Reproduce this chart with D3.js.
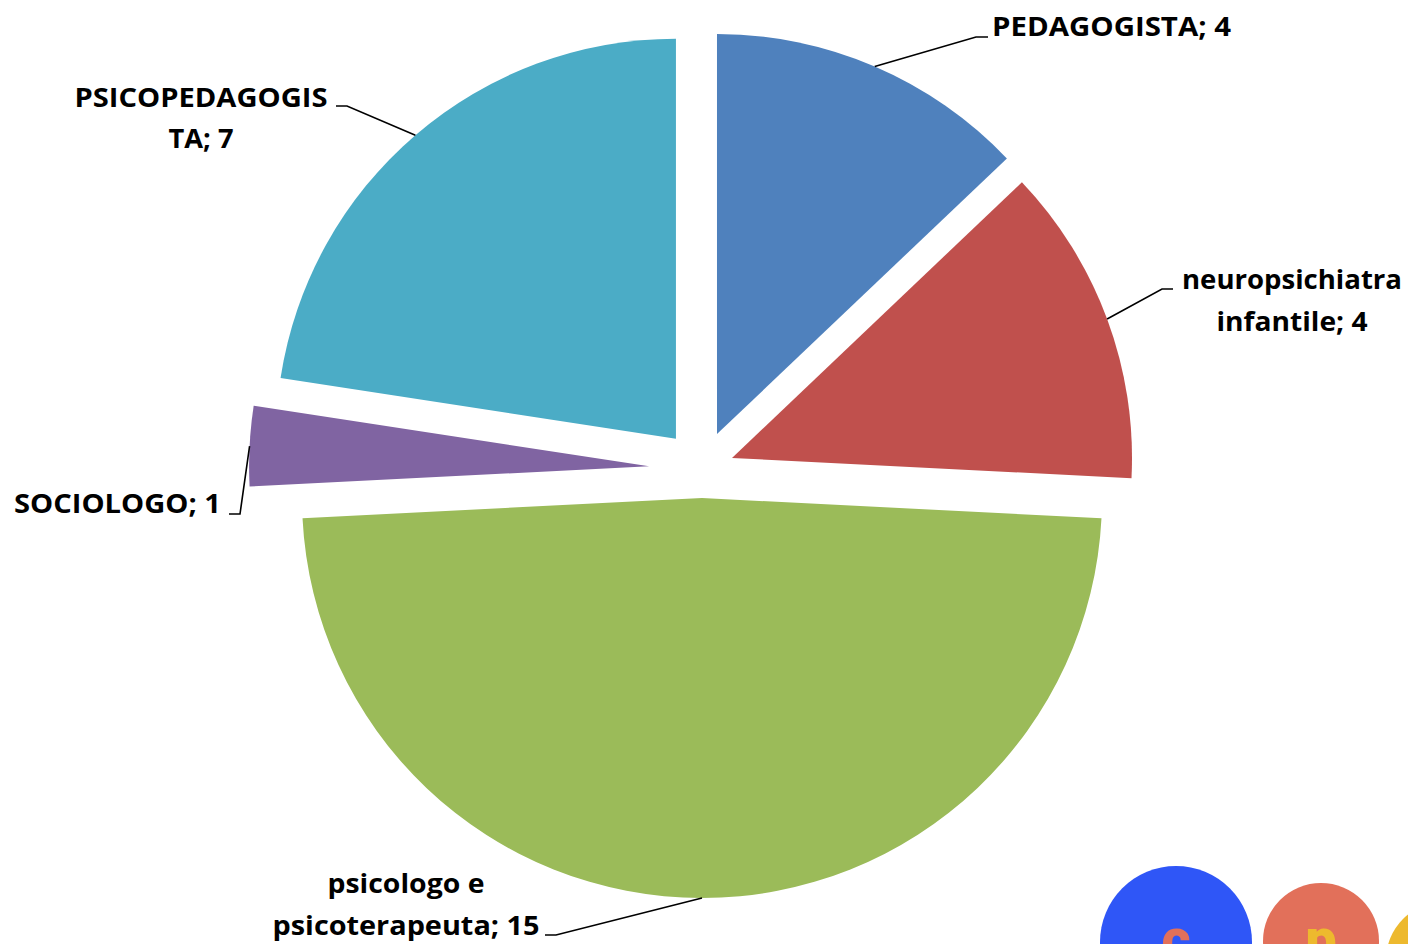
<!DOCTYPE html>
<html>
<head>
<meta charset="utf-8">
<script src="https://cdn.jsdelivr.net/npm/d3@7"></script>
<style>
  html, body { margin: 0; padding: 0; background: #fff; }
  svg { display: block; }
</style>
</head>
<body>
<svg id="chart" width="1408" height="944"></svg>
<script>
// ---- data ----
const categories = ["PEDAGOGISTA", "neuropsichiatra infantile", "psicologo e psicoterapeuta", "SOCIOLOGO", "PSICOPEDAGOGISTA"];
const values = [4, 4, 15, 1, 7];
const labelLines = [
  ["PEDAGOGISTA; 4"],
  ["neuropsichiatra", "infantile; 4"],
  ["psicologo e", "psicoterapeuta; 15"],
  ["SOCIOLOGO; 1"],
  ["PSICOPEDAGOGIS", "TA; 7"]
];
const colors = ["#4F81BD", "#C0504D", "#9BBB59", "#8064A2", "#4BACC6"];

// ---- layout (presentation only) ----
const W = 1408, H = 944;
const center = { x: 702, y: 469 };
const radius = 400;
const explode = { "PEDAGOGISTA": 38, "neuropsichiatra infantile": 32, "psicologo e psicoterapeuta": 29, "SOCIOLOGO": 53, "PSICOPEDAGOGISTA": 40 };
const labelLayout = {
  "PEDAGOGISTA": { x: 992, anchor: "start", ys: [36], widths: [239], elbow: [976, 37], end: [988, 37] },
  "neuropsichiatra infantile": { x: 1292, anchor: "middle", ys: [289, 331], widths: [220, 151], elbow: [1162, 289], end: [1173, 289] },
  "psicologo e psicoterapeuta": { x: 406, anchor: "middle", ys: [893, 935], widths: [157, 267], elbow: [556, 935], end: [545, 935] },
  "SOCIOLOGO": { x: 14, anchor: "start", ys: [513], widths: [207], elbow: [240, 514], end: [229, 514] },
  "PSICOPEDAGOGISTA": { x: 201, anchor: "middle", ys: [107, 148], widths: [253, 65], elbow: [347, 106], end: [336, 106] }
};

const svg = d3.select("#chart");
svg.append("rect").attr("width", W).attr("height", H).attr("fill", "#fff");

const pie = d3.pie().sort(null).value(d => d.value).startAngle(0).endAngle(2 * Math.PI);
const arcs = pie(categories.map((c, i) => ({ cat: c, value: values[i], color: colors[i], lines: labelLines[i] })));

const rScale = d3.scaleLinear().domain([0, 1]).range([0, radius]);
const arcGen = d3.arc().innerRadius(0).outerRadius(rScale(1));

const g = svg.append("g").attr("transform", `translate(${center.x},${center.y})`);

arcs.forEach(a => {
  const mid = (a.startAngle + a.endAngle) / 2;
  const off = explode[a.data.cat];
  const ox = Math.sin(mid) * off, oy = -Math.cos(mid) * off;
  g.append("path")
    .attr("d", arcGen(a))
    .attr("transform", `translate(${ox},${oy})`)
    .attr("fill", a.data.color);
  const L = labelLayout[a.data.cat];
  const ax = center.x + ox + Math.sin(mid) * rScale(1);
  const ay = center.y + oy - Math.cos(mid) * rScale(1);
  svg.append("polyline")
    .attr("points", [[ax, ay], L.elbow, L.end].map(p => p.join(",")).join(" "))
    .attr("fill", "none")
    .attr("stroke", "#000")
    .attr("stroke-width", 1.6);
  a.data.lines.forEach((t, j) => {
    svg.append("text")
      .attr("x", L.x)
      .attr("y", L.ys[j])
      .attr("text-anchor", L.anchor)
      .attr("font-family", "'Open Sans', Lato, sans-serif")
      .attr("font-weight", 700)
      .attr("font-size", 27)
      .attr("fill", "#000")
      .attr("textLength", L.widths[j])
      .attr("lengthAdjust", "spacingAndGlyphs")
      .text(t);
  });
});

// ---- decorative logo in bottom-right corner ----
const logo = svg.append("g");
const dots = [
  { cx: 1176, cy: 942, r: 76, fill: "#2F56F7", letter: "c", lfill: "#E2705A" },
  { cx: 1321, cy: 941, r: 58, fill: "#E2705A", letter: "p", lfill: "#EDB92E" },
  { cx: 1444, cy: 960, r: 58, fill: "#EDB92E", letter: "", lfill: "#fff" }
];
dots.forEach(d => {
  logo.append("circle").attr("cx", d.cx).attr("cy", d.cy).attr("r", d.r).attr("fill", d.fill);
  if (d.letter) {
    logo.append("text")
      .attr("x", d.cx).attr("y", 958)
      .attr("text-anchor", "middle")
      .attr("font-family", "Roboto, 'DejaVu Sans', sans-serif")
      .attr("font-weight", 900)
      .attr("font-size", 56)
      .attr("fill", d.lfill)
      .text(d.letter);
  }
});
</script>
</body>
</html>
